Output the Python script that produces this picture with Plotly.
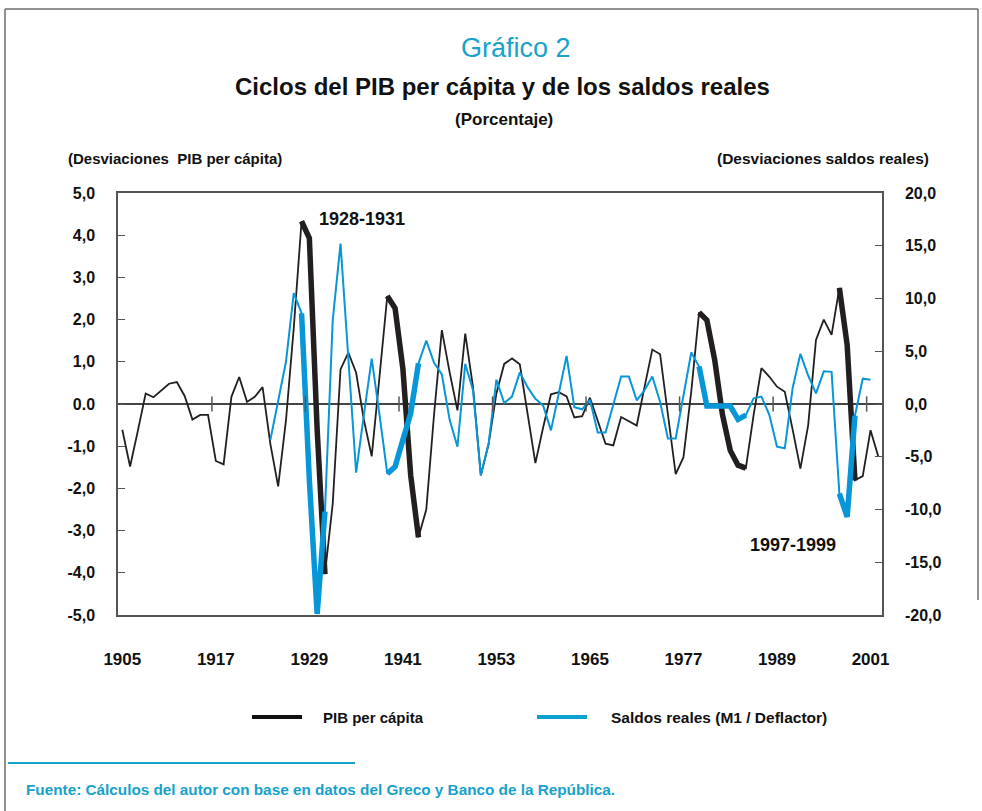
import plotly.graph_objects as go

# ---------------- data ----------------
years = list(range(1905, 2003))

pib_per_capita = [
    -0.61, -1.48, -0.63, 0.25, 0.16, 0.33, 0.48, 0.52, 0.19, -0.37,
    -0.26, -0.26, -1.35, -1.43, 0.17, 0.64, 0.05, 0.17, 0.40, -0.95,
    -1.95, -0.39, 1.80, 4.33, 3.93, -0.60, -4.03, -2.36, 0.82, 1.22,
    0.74, -0.38, -1.24, 0.65, 2.56, 2.27, 0.84, -1.69, -3.16, -2.50,
    -0.25, 1.75, 0.75, -0.15, 1.67, 0.40, -1.69, -0.95, 0.25, 0.95,
    1.08, 0.94, -0.25, -1.40, -0.55, 0.23, 0.28, 0.18, -0.32, -0.29,
    0.15, -0.39, -0.94, -0.98, -0.31, -0.41, -0.51, 0.40, 1.29, 1.18,
    -0.25, -1.66, -1.26, 0.30, 2.17, 1.99, 1.05, -0.25, -1.10, -1.45,
    -1.52, -0.26, 0.85, 0.65, 0.41, 0.29, -0.60, -1.53, -0.50, 1.52,
    2.00, 1.64, 2.75, 1.40, -1.81, -1.71, -0.62, -1.25,
]

saldos_start_year = 1924
saldos_reales = [
    -3.4, 0.4, 4.0, 10.5, 8.6, -7.2, -19.9, -10.2, 7.95, 15.2,
    4.5, -6.5, -1.0, 4.3, -1.0, -6.6, -5.95, -3.4, -0.9, 3.85,
    6.0, 3.9, 2.8, -1.5, -4.05, 3.8, 1.3, -6.75, -3.75, 2.3,
    0.1, 0.7, 3.0, 1.6, 0.5, -0.15, -2.5, 1.0, 4.56, -0.3,
    -0.5, 0.4, -2.7, -2.7, 0.0, 2.6, 2.6, 0.35, 1.3, 2.6,
    0.2, -3.26, -3.26, 0.8, 4.88, 3.55, -0.2, -0.2, -0.2, -0.2,
    -1.46, -1.05, 0.54, 0.7, -1.0, -4.05, -4.2, 1.5, 4.75, 2.7,
    1.0, 3.1, 3.05, -8.5, -10.7, -1.1, 2.4, 2.3,
]
saldos_years = list(range(saldos_start_year, saldos_start_year + len(saldos_reales)))

highlight_periods = [(1928, 1931), (1939, 1943), (1979, 1985), (1997, 1999)]

left_ticks = [-5, -4, -3, -2, -1, 0, 1, 2, 3, 4, 5]
left_ticktext = ["-5,0", "-4,0", "-3,0", "-2,0", "-1,0", "0.0", "1,0", "2,0", "3,0", "4,0", "5,0"]
right_ticks = [-20, -15, -10, -5, 0, 5, 10, 15, 20]
right_ticktext = ["-20,0", "-15,0", "-10,0", "-5,0", "0,0", "5,0", "10,0", "15,0", "20,0"]
x_labels = [1905, 1917, 1929, 1941, 1953, 1965, 1977, 1989, 2001]
zero_tick_marks = [1916.5, 1928.5, 1940.5, 1952.5, 1964.5, 1976.5, 1988.5, 2000.5]

# ---------------- style ----------------
BLACK = "#231f20"
BLUE = "#0796d8"
CYAN = "#17a2cc"
FONT = "Liberation Sans, Arial, sans-serif"
W, H = 982, 811
L, R, T, B = 118, 882, 193, 615
PW, PH = R - L, B - T


def px(x):
    return (x - L) / PW


def py(y):
    return (B - y) / PH


fig = go.Figure()

# thin series
fig.add_trace(go.Scatter(x=saldos_years, y=saldos_reales, mode="lines", yaxis="y2",
                         line=dict(color=BLUE, width=2), showlegend=False,
                         name="Saldos reales (M1 / Deflactor)"))
fig.add_trace(go.Scatter(x=years, y=pib_per_capita, mode="lines",
                         line=dict(color=BLACK, width=1.8), showlegend=False,
                         name="PIB per cápita"))

# highlighted (thick) segments
for a, b in highlight_periods:
    sx = [y for y in saldos_years if a <= y <= b]
    sy = [v for y, v in zip(saldos_years, saldos_reales) if a <= y <= b]
    fig.add_trace(go.Scatter(x=sx, y=sy, mode="lines", yaxis="y2",
                             line=dict(color=BLUE, width=5.5), showlegend=False,
                             hoverinfo="skip"))
for a, b in highlight_periods:
    bx = [y for y in years if a <= y <= b]
    by = [v for y, v in zip(years, pib_per_capita) if a <= y <= b]
    fig.add_trace(go.Scatter(x=bx, y=by, mode="lines",
                             line=dict(color=BLACK, width=5.5), showlegend=False,
                             hoverinfo="skip"))

shapes = []
# small tick marks on the zero line
for t in zero_tick_marks:
    shapes.append(dict(type="line", xref="x", yref="y", x0=t, x1=t, y0=-0.18, y1=0.18,
                       line=dict(color="#555555", width=1.5)))
# outer frame (left, top, right)
shapes.append(dict(type="line", xref="paper", yref="paper", x0=px(5), x1=px(5),
                   y0=py(9), y1=py(811), line=dict(color="#6d6d6d", width=1.5)))
shapes.append(dict(type="line", xref="paper", yref="paper", x0=px(5), x1=px(978),
                   y0=py(9), y1=py(9), line=dict(color="#6d6d6d", width=1.5)))
shapes.append(dict(type="line", xref="paper", yref="paper", x0=px(978), x1=px(978),
                   y0=py(9), y1=py(600), line=dict(color="#6d6d6d", width=1.5)))
# separator above source
shapes.append(dict(type="line", xref="paper", yref="paper", x0=px(8), x1=px(355),
                   y0=py(763), y1=py(763), line=dict(color=CYAN, width=2)))
# legend samples
shapes.append(dict(type="line", xref="paper", yref="paper", x0=px(252), x1=px(302),
                   y0=py(717), y1=py(717), line=dict(color="#111111", width=4)))
shapes.append(dict(type="line", xref="paper", yref="paper", x0=px(537), x1=px(587),
                   y0=py(717), y1=py(717), line=dict(color="#0aa3cf", width=4)))

ann = []


def text(s, x, y, size, color="#111111", bold=True, xanchor="left"):
    ann.append(dict(text=("<b>%s</b>" % s) if bold else s, x=px(x), y=py(y),
                    xref="paper", yref="paper", xanchor=xanchor, yanchor="middle",
                    showarrow=False, font=dict(family=FONT, size=size, color=color)))


text("Gráfico 2", 516, 48, 27, color=CYAN, bold=False, xanchor="center")
text("Ciclos del PIB per cápita y de los saldos reales", 502, 86, 24, xanchor="center")
text("(Porcentaje)", 504, 120, 17, xanchor="center")
text("(Desviaciones  PIB per cápita)", 66, 158, 15)
text("(Desviaciones saldos reales)", 931, 158, 15.5, xanchor="right")
text("1928-1931", 317, 219, 18)
text("1997-1999", 748, 545, 18)
text("PIB per cápita", 321, 717, 15)
text("Saldos reales (M1 / Deflactor)", 609, 717, 15.5)
text("Fuente: Cálculos del autor con base en datos del Greco y Banco de la República.",
     24, 789, 15.3, color=CYAN)

fig.update_layout(
    width=W, height=H,
    margin=dict(l=L, r=W - R, t=T, b=H - B, pad=0),
    paper_bgcolor="white", plot_bgcolor="white",
    font=dict(family=FONT, color="#111111"),
    showlegend=False,
    shapes=shapes,
    annotations=ann,
    xaxis=dict(range=[1904.45, 2002.47], tickvals=x_labels,
               ticktext=["<b>%d</b>" % v for v in x_labels], ticks="", showgrid=False,
               showline=True, linecolor="#555555", linewidth=1.5, mirror=True,
               zeroline=False, tickfont=dict(size=17, family=FONT, color="#111111"),
               ticklabelstandoff=28),
    yaxis=dict(range=[-5, 5], tickvals=left_ticks, ticktext=["<b>%s</b>" % t for t in left_ticktext],
               ticks="inside", ticklen=7, tickcolor="#555555", tickwidth=1.2,
               showgrid=False, showline=True, linecolor="#555555", linewidth=1.5,
               zeroline=True, zerolinecolor="#444444", zerolinewidth=1.5,
               tickfont=dict(size=16, family=FONT, color="#111111"),
               ticklabelstandoff=18),
    yaxis2=dict(range=[-20, 20], overlaying="y", side="right", tickvals=right_ticks,
                ticktext=["<b>%s</b>" % t for t in right_ticktext],
                ticks="inside", ticklen=7, tickcolor="#555555", tickwidth=1.2,
                showgrid=False, showline=True, linecolor="#555555", linewidth=1.5,
                zeroline=False, tickfont=dict(size=16, family=FONT, color="#111111"),
                ticklabelstandoff=18),
)

fig.write_html("out.html", config={"displayModeBar": False},
               post_script="document.body.style.margin='0';document.body.style.overflow='hidden';")
